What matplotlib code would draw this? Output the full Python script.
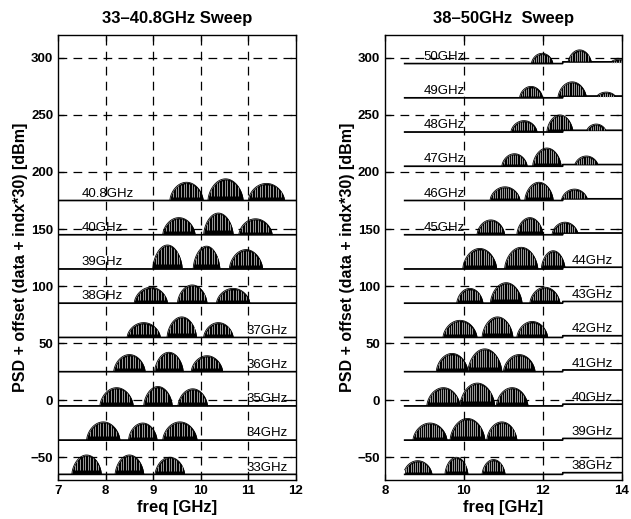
import numpy as np
import matplotlib.pyplot as plt

# Left panel: 33-40.8 GHz sweep
left_labels = ["33GHz", "34GHz", "35GHz", "36GHz", "37GHz",
               "38GHz", "39GHz", "40GHz", "40.8GHz"]
left_base = [-65, -35, -5, 25, 55, 85, 115, 145, 175]
left_centers = [[7.60, 8.50, 9.35], [7.95, 8.78, 9.56], [8.23, 9.10, 9.83],
                [8.50, 9.33, 10.13], [8.80, 9.60, 10.37], [8.95, 9.82, 10.68],
                [9.30, 10.12, 10.95], [9.54, 10.37, 11.15], [9.70, 10.52, 11.38]]
left_halfw = [[0.31, 0.30, 0.31], [0.35, 0.30, 0.36], [0.35, 0.30, 0.31],
              [0.33, 0.30, 0.33], [0.35, 0.31, 0.31], [0.35, 0.31, 0.35],
              [0.31, 0.28, 0.35], [0.34, 0.31, 0.35], [0.35, 0.37, 0.38]]
left_peaks = [[-48, -48, -50], [-19, -20, -19], [11, 12, 10],
              [40, 42, 39], [68, 73, 68], [99, 101, 98],
              [136, 135, 132], [160, 164, 159], [191, 194, 190]]

# Right panel: 38-50 GHz sweep
right_labels = ["38GHz", "39GHz", "40GHz", "41GHz", "42GHz", "43GHz", "44GHz",
                "45GHz", "46GHz", "47GHz", "48GHz", "49GHz", "50GHz"]
right_base = [-65, -35, -5, 25, 55, 85, 115, 145, 175, 205, 235, 265, 295]
right_centers = [[8.83, 9.81, 10.75], [9.14, 10.09, 10.96], [9.48, 10.34, 11.22],
                 [9.70, 10.53, 11.40], [9.90, 10.85, 11.73], [10.15, 11.07, 12.05],
                 [10.40, 11.45, 12.26], [10.68, 11.67, 12.56], [11.04, 11.90, 12.80],
                 [11.28, 12.10, 13.10], [11.52, 12.43, 13.35], [11.70, 12.74, 13.60],
                 [11.98, 12.93, 13.95]]
right_halfw = [[0.36, 0.29, 0.29], [0.43, 0.44, 0.38], [0.42, 0.44, 0.40],
               [0.40, 0.43, 0.40], [0.43, 0.39, 0.39], [0.33, 0.40, 0.38],
               [0.43, 0.42, 0.30], [0.35, 0.33, 0.33], [0.38, 0.36, 0.33],
               [0.32, 0.36, 0.30], [0.33, 0.33, 0.25], [0.29, 0.36, 0.25],
               [0.27, 0.30, 0.25]]
right_peaks = [[-53, -50, -52], [-20, -16, -19], [11, 15, 11],
               [41, 45, 40], [70, 73, 69], [98, 103, 99],
               [133, 134, 131], [158, 160, 156], [187, 191, 185],
               [216, 221, 214], [245, 250, 242], [275, 279, 270],
               [304, 307, 299]]
right_step = 1.5  # small rise of the noise floor above ~12.5 GHz

plt.rcParams["font.family"] = ["Liberation Sans", "DejaVu Sans"]


def bump_env(x, c, w, h):
    # dome shaped envelope of one group of spectral lines
    u = np.clip(1 - ((x - c) / w) ** 2, 0, None)
    return h * u ** 0.6


def draw_trace(ax, x0, x1, base, centers, halfw, peaks, step_at=None, step=0):
    x = np.linspace(x0, x1, 1500)
    floor = np.full_like(x, float(base))
    if step_at is not None:
        floor[x >= step_at] += step
    y = floor.copy()
    for c, w, p in zip(centers, halfw, peaks):
        y = np.maximum(y, base + bump_env(x, c, w, p - base))
    ax.fill_between(x, floor, y, color="black", lw=0)
    ax.plot(x, y, color="black", lw=0.6)
    ax.plot(x, floor, color="black", lw=1.2)
    # light stripes inside the bumps (spectral line texture)
    for c, w, p in zip(centers, halfw, peaks):
        xs = np.arange(c - w * 0.8, c + w * 0.8, 0.055)
        tops = base + bump_env(xs, c, w, p - base) - 1.0
        ax.vlines(xs, base + (p - base) * 0.2, tops, color="#c4c4c4", lw=0.55)


def style_axes(ax, xlim, xticks, xgrid):
    ax.set_xlim(*xlim)
    ax.set_ylim(-70, 320)
    ax.set_xticks(xticks)
    ax.set_yticks(np.arange(-50, 301, 50))
    for xv in xgrid:
        ax.axvline(xv, color="black", lw=0.9, ls=(0, (7, 5)), zorder=0)
    for yv in np.arange(-50, 301, 50):
        ax.axhline(yv, color="black", lw=0.9, ls=(0, (7, 5)), zorder=0)
    ax.tick_params(direction="in", top=True, right=True, length=4, width=0.9,
                   labelsize=9.5)
    for lab in ax.get_xticklabels() + ax.get_yticklabels():
        lab.set_fontweight("bold")
    for s in ax.spines.values():
        s.set_linewidth(1.0)
    ax.set_xlabel("freq [GHz]", fontsize=12, fontweight="bold", labelpad=2)
    ax.set_ylabel("PSD + offset (data + indx*30) [dBm]", fontsize=11.5,
                  fontweight="bold", labelpad=2)


fig = plt.figure(figsize=(6.31, 5.19), dpi=100)
axL = fig.add_axes([0.092, 0.075, 0.377, 0.8575])
axR = fig.add_axes([0.610, 0.075, 0.3756, 0.8575])

# left panel
for i, lab in enumerate(left_labels):
    draw_trace(axL, 7.0, 12.0, left_base[i], left_centers[i],
               left_halfw[i], left_peaks[i])
    if i < 5:
        axL.text(10.96, left_base[i] + 6, lab, fontsize=9.5, va="center",
                 ha="left")
    else:
        axL.text(7.5, left_base[i] + 6, lab, fontsize=9.5, va="center",
                 ha="left")
style_axes(axL, (7, 12), range(7, 13), [8, 9, 10, 11])
axL.set_title("33\u201340.8GHz Sweep", fontsize=12, fontweight="bold", pad=9)

# right panel
for i, lab in enumerate(right_labels):
    draw_trace(axR, 8.5, 14.0, right_base[i], right_centers[i],
               right_halfw[i], right_peaks[i], step_at=12.5, step=right_step)
    if i < 7:
        axR.text(12.73, right_base[i] + 7, lab, fontsize=9.5, va="center",
                 ha="left")
    else:
        axR.text(8.97, right_base[i] + 6, lab, fontsize=9.5, va="center",
                 ha="left")
style_axes(axR, (8, 14), [8, 10, 12, 14], [10, 12])
axR.set_title("38\u201350GHz  Sweep", fontsize=12, fontweight="bold", pad=9)

fig.savefig("out.png", dpi=100, facecolor="white")
